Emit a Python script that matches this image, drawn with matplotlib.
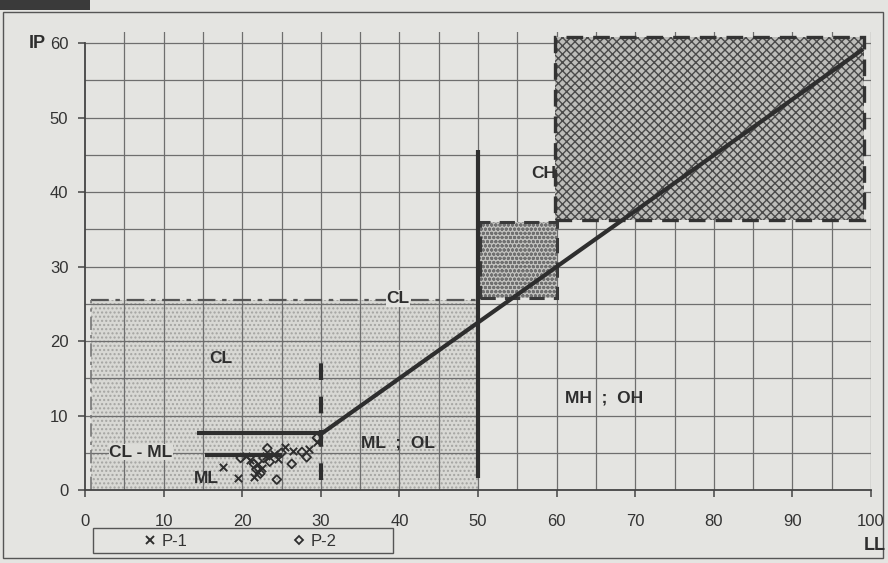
import matplotlib
matplotlib.use("Agg")
import matplotlib.pyplot as plt
from matplotlib.patches import Rectangle
from matplotlib.lines import Line2D

plt.rcParams['font.family'] = ['Liberation Sans', 'DejaVu Sans']

# ---- data ----
x_ticks = [0, 10, 20, 30, 40, 50, 60, 70, 80, 90, 100]
y_ticks = [0, 10, 20, 30, 40, 50, 60]
y_tick_labels = ['0', '10', '20', '30', '40', '50', '60']

p1_ll = [17.6, 19.5, 21.0, 22.0, 23.0, 24.0, 25.5, 26.5, 28.5, 29.5, 21.5, 22.0, 22.5, 20.5, 24.5]
p1_ip = [3.1, 1.6, 4.0, 3.5, 4.5, 4.8, 5.8, 5.2, 5.5, 6.5, 1.8, 2.4, 3.0, 4.5, 4.2]
p2_ll = [19.8, 22.7, 23.2, 24.4, 26.3, 27.6, 28.2, 29.5, 21.5, 23.5, 25.0, 21.8, 22.3]
p2_ip = [4.3, 4.3, 5.6, 1.4, 3.5, 5.1, 4.4, 7.0, 3.5, 3.8, 5.0, 2.8, 2.2]

aline_ll = [30, 99]
aline_ip = [7.5, 59.2]
ll50_ll = [50, 50]
ll50_ip = [1.6, 45.6]
ll30_ll = [30, 30]
ll30_ip = [1.3, 17.9]
h1_ll = [14.3, 30]
h1_ip = [7.6, 7.6]
h2_ll = [15.3, 25.0]
h2_ip = [4.7, 4.7]

# zones: (ll_min, ll_max, ip_min, ip_max)
zone_cl = (0.7, 50, 0, 25.5)
zone_small = (50.2, 60.0, 25.8, 36.0)
zone_ch = (59.8, 99.1, 36.2, 60.8)

labels = [("CL", 17.3, 17.7), ("CL", 39.8, 25.7), ("MH  ;  OH", 66.0, 12.4),
          ("ML  ;  OL", 39.8, 6.3), ("CL - ML", 7.1, 5.1), ("ML", 15.5, 1.6)]

bg = '#e4e4e1'
ink = '#2e2e2e'

fig = plt.figure(figsize=(8.88, 5.63), dpi=100, facecolor=bg)
ax = fig.add_axes([85/888, 1-490/563, (871-85)/888, (490-32)/563])
ax.set_facecolor(bg)
ax.set_xlim(0, 100)
ax.set_ylim(0, 61.5)

# grid every 5
for v in range(5, 101, 5):
    ax.axvline(v, color='#6e6e6e', lw=0.9, zorder=1)
for h in range(5, 61, 5):
    ax.axhline(h, color='#6e6e6e', lw=0.9, zorder=1)

plt.rcParams['hatch.linewidth'] = 1.0
# CL zone
x0, x1, y0, y1 = zone_cl
ax.add_patch(Rectangle((x0, y0), x1-x0, y1-y0, facecolor='#d8d8d4', edgecolor='#a4a4a1',
                       hatch='....', lw=0, zorder=0.5))
ax.plot([x0, x1], [y1, y1], color='#555555', lw=1.6, ls=(0, (8, 3, 2, 3)), zorder=2)
ax.plot([x0, x0], [y0, y1], color='#777777', lw=1.2, ls=(0, (8, 3, 2, 3)), zorder=2)

# small zone
x0, x1, y0, y1 = zone_small
ax.add_patch(Rectangle((x0, y0), x1-x0, y1-y0, facecolor='#c2c2bf', edgecolor='#707070',
                       hatch='oooo', lw=0, zorder=1.5))
ax.add_patch(Rectangle((x0, y0), x1-x0, y1-y0, facecolor='none', edgecolor='#3a3a3a',
                       lw=2.2, ls=(0, (5, 3)), zorder=2))

# CH text under the hatch
ax.text(58.4, 42.5, "CH", fontsize=12.5, fontweight='bold', color=ink, ha='center', va='center', zorder=1.2)

# CH zone
x0, x1, y0, y1 = zone_ch
ax.add_patch(Rectangle((x0, y0), x1-x0, y1-y0, facecolor='#bdbdba', edgecolor='#4a4a4a',
                       hatch='xxxx', lw=0, zorder=1.5))
ax.add_patch(Rectangle((x0, y0), x1-x0, y1-y0, facecolor='none', edgecolor='#333333',
                       lw=2.4, ls=(0, (5, 3)), zorder=2))

# lines
ax.plot(aline_ll, aline_ip, color=ink, lw=3.0, solid_capstyle='butt', zorder=3)
ax.plot(ll50_ll, ll50_ip, color=ink, lw=3.0, solid_capstyle='butt', zorder=3)
ax.plot(ll30_ll, ll30_ip, color=ink, lw=3.0, ls=(0, (4, 4)), zorder=3)
ax.plot(h1_ll, h1_ip, color=ink, lw=3.0, solid_capstyle='butt', zorder=3)
ax.plot(h2_ll, h2_ip, color=ink, lw=3.0, solid_capstyle='butt', zorder=3)

# points
ax.scatter(p1_ll, p1_ip, marker='x', s=28, color=ink, linewidths=1.4, zorder=4, label='P-1')
ax.scatter(p2_ll, p2_ip, marker='D', s=20, facecolors='none', edgecolors=ink, linewidths=1.3,
           zorder=4, label='P-2')

# labels
for txt, lx, ly in labels:
    kw = {}
    if txt == "CL" and ly > 20:
        kw['bbox'] = dict(facecolor=bg, edgecolor='none', pad=0.5)
    if txt == "CL - ML":
        kw['bbox'] = dict(facecolor='#dcdcd8', edgecolor='none', pad=0.3)
    ax.text(lx, ly, txt, fontsize=12.5, fontweight='bold', color=ink, ha='center', va='center', zorder=5, **kw)

# axes styling
for sp in ['top', 'right']:
    ax.spines[sp].set_visible(False)
for sp in ['left', 'bottom']:
    ax.spines[sp].set_color('#444444')
    ax.spines[sp].set_linewidth(1.3)
ax.spines['left'].set_bounds(0, 60)
ax.set_xticks(x_ticks)
ax.set_xticklabels([str(t) for t in x_ticks])
ax.set_yticks(y_ticks)
ax.set_yticklabels(y_tick_labels)
ax.tick_params(axis='x', direction='out', length=5, width=1.1, colors='#444444', pad=12, labelsize=12,
               labelcolor='#333333')
ax.tick_params(axis='y', direction='out', length=5, width=1.1, colors='#444444', pad=7, labelsize=12,
               labelcolor='#333333')

fig.text(46/888, 1-44/563, "IP", fontsize=13, fontweight='bold', color=ink, ha='right', va='center')
fig.text(875/888, 1-546/563, "LL", fontsize=13, fontweight='bold', color=ink, ha='center', va='center')

# legend
h1 = Line2D([], [], marker='x', ls='none', color=ink, markersize=6, markeredgewidth=1.4)
h2 = Line2D([], [], marker='D', ls='none', markerfacecolor='none', markeredgecolor=ink, markersize=4,
            markeredgewidth=1.3)
leg = fig.legend([h1, h2], ['P-1', 'P-2'], ncol=2, loc='center',
                 bbox_to_anchor=(240/888, 1-541/563), frameon=False,
                 fontsize=12, handlelength=0.8, handletextpad=0.3, borderpad=0.2,
                 borderaxespad=0, columnspacing=6.3)
for t in leg.get_texts():
    t.set_color('#333333')
fig.add_artist(Rectangle((93/888, 1-553/563), 300/888, 25/563, transform=fig.transFigure,
                         facecolor='none', edgecolor='#555555', lw=1.0))

# outer border
fig.add_artist(Rectangle((3/888, 5/563), 880/888, 546/563, transform=fig.transFigure,
                         facecolor='none', edgecolor='#555555', lw=1.0))
fig.add_artist(Rectangle((0, 1-10/563), 90/888, 10/563, transform=fig.transFigure,
                         facecolor='#3a3a3a', edgecolor='none'))

fig.savefig('out.png', dpi=100, facecolor=bg)
